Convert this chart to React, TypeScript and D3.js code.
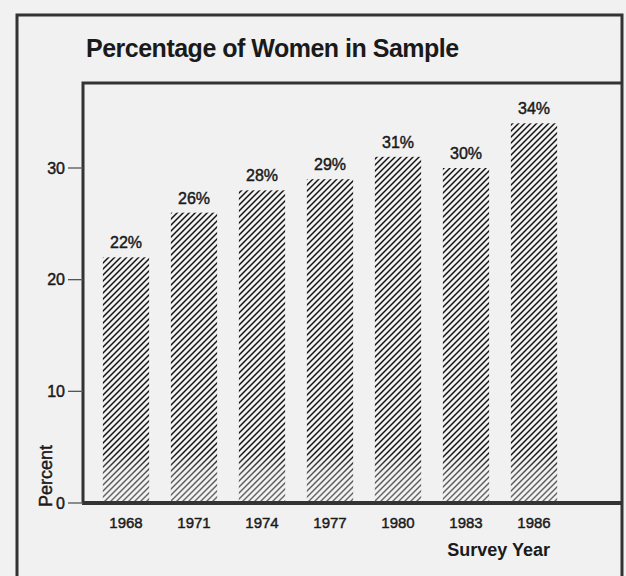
import React, { useRef, useEffect } from 'react'
import * as d3 from 'd3'

// survey years and share of women (%)
const years = ['1968', '1971', '1974', '1977', '1980', '1983', '1986']
const percents = [22, 26, 28, 29, 31, 30, 34]
const yTicks = [0, 10, 20, 30]

const W = 626
const H = 576

const App: React.FC = () => {
    const svgRef = useRef<SVGSVGElement>(null)

    useEffect(() => {
        const svg = d3.select(svgRef.current).attr('width', W).attr('height', H)
        svg.selectAll('*').remove()

        const font = "'Liberation Sans', Arial, Helvetica, sans-serif"
        const ink = '#1a1a1a'
        const frame = '#333'

        // plot area
        const plot = { left: 83, top: 83, right: 622, bottom: 503 }

        const defs = svg.append('defs')
        const hatch = defs
            .append('pattern')
            .attr('id', 'hatch')
            .attr('patternUnits', 'userSpaceOnUse')
            .attr('width', 6)
            .attr('height', 6)
        hatch
            .append('path')
            .attr('d', 'M0,6 L6,0 M-1,1 L1,-1 M5,7 L7,5')
            .attr('stroke', '#111')
            .attr('stroke-width', 1.45)

        const fade = defs
            .append('linearGradient')
            .attr('id', 'fade')
            .attr('x1', 0)
            .attr('y1', 0)
            .attr('x2', 0)
            .attr('y2', 1)
        fade.append('stop').attr('offset', '0%').attr('stop-color', '#f2f2f2').attr('stop-opacity', 0)
        fade.append('stop').attr('offset', '40%').attr('stop-color', '#f2f2f2').attr('stop-opacity', 0.3)
        fade.append('stop').attr('offset', '100%').attr('stop-color', '#f2f2f2').attr('stop-opacity', 0.4)

        // paper background
        svg.append('rect').attr('width', W).attr('height', H).attr('fill', '#f1f1f1')

        const x = d3.scaleBand<string>().domain(years).range([92, 568]).paddingInner(0.32).paddingOuter(0.16)
        const y = d3.scaleLinear().domain([0, 30]).range([plot.bottom, 168])

        // outer frame
        svg.append('path')
            .attr('d', `M17,${H + 10} L17,15 L${plot.right},15 L${plot.right},${H + 10}`)
            .attr('fill', 'none')
            .attr('stroke', frame)
            .attr('stroke-width', 3)

        // title
        svg.append('text')
            .attr('x', 86)
            .attr('y', 57)
            .attr('font-family', font)
            .attr('font-size', 25)
            .attr('font-weight', 'bold')
            .attr('letter-spacing', -0.5)
            .attr('fill', ink)
            .text('Percentage of Women in Sample')

        // bars
        const bars = svg.append('g')
        bars.selectAll('rect.bar')
            .data(percents)
            .enter()
            .append('rect')
            .attr('class', 'bar')
            .attr('x', (d, i) => x(years[i])!)
            .attr('y', (d) => y(d))
            .attr('width', x.bandwidth())
            .attr('height', (d) => y(0) - y(d))
            .attr('fill', 'url(#hatch)')

        // washed out lower part, as in the print
        bars.selectAll('rect.fade')
            .data(percents)
            .enter()
            .append('rect')
            .attr('class', 'fade')
            .attr('x', (d, i) => x(years[i])!)
            .attr('y', y(4.5))
            .attr('width', x.bandwidth())
            .attr('height', y(0) - y(4.5))
            .attr('fill', 'url(#fade)')

        // text a bit heavier, like the printed labels
        const heavy = (sel: any) => sel.attr('stroke', ink).attr('stroke-width', 0.45)

        // value labels
        svg.append('g')
            .selectAll('text')
            .data(percents)
            .enter()
            .append('text')
            .attr('x', (d, i) => x(years[i])! + x.bandwidth() / 2)
            .attr('y', (d) => y(d) - 9)
            .attr('text-anchor', 'middle')
            .attr('font-family', font)
            .attr('font-size', 16)
            .attr('fill', ink)
            .call(heavy)
            .text((d) => `${d}%`)

        // plot frame (left, top, right) and base line
        svg.append('path')
            .attr('d', `M${plot.left},${plot.bottom} L${plot.left},${plot.top} L${plot.right},${plot.top}`)
            .attr('fill', 'none')
            .attr('stroke', frame)
            .attr('stroke-width', 3)
        svg.append('line')
            .attr('x1', plot.left - 1)
            .attr('x2', plot.right)
            .attr('y1', y(0))
            .attr('y2', y(0))
            .attr('stroke', frame)
            .attr('stroke-width', 4)

        // y axis
        const yAxis = svg.append('g')
        yAxis.selectAll('line')
            .data(yTicks)
            .enter()
            .append('line')
            .attr('x1', 68)
            .attr('x2', plot.left)
            .attr('y1', (d) => y(d))
            .attr('y2', (d) => y(d))
            .attr('stroke', '#555')
            .attr('stroke-width', 1.3)
        yAxis.selectAll('text')
            .data(yTicks)
            .enter()
            .append('text')
            .attr('x', 65)
            .attr('y', (d) => y(d))
            .attr('dy', '0.36em')
            .attr('text-anchor', 'end')
            .attr('font-family', font)
            .attr('font-size', 16)
            .attr('fill', ink)
            .call(heavy)
            .text((d) => d)

        svg.append('text')
            .attr('transform', `translate(52,507) rotate(-90)`)
            .attr('font-family', font)
            .attr('font-size', 18)
            .attr('fill', ink)
            .call(heavy)
            .text('Percent')

        // x axis labels
        svg.append('g')
            .selectAll('text')
            .data(years)
            .enter()
            .append('text')
            .attr('x', (d) => x(d)! + x.bandwidth() / 2)
            .attr('y', 528)
            .attr('text-anchor', 'middle')
            .attr('font-family', font)
            .attr('font-size', 15)
            .attr('fill', ink)
            .call(heavy)
            .text((d) => d)

        svg.append('text')
            .attr('x', 550)
            .attr('y', 556)
            .attr('text-anchor', 'end')
            .attr('font-family', font)
            .attr('font-size', 18)
            .attr('font-weight', 'bold')
            .attr('fill', ink)
            .text('Survey Year')
    }, [])

    return (
        <div style={{ position: 'absolute', left: 0, top: 0 }}>
            <svg ref={svgRef} style={{ display: 'block' }} />
        </div>
    )
}

export default App
